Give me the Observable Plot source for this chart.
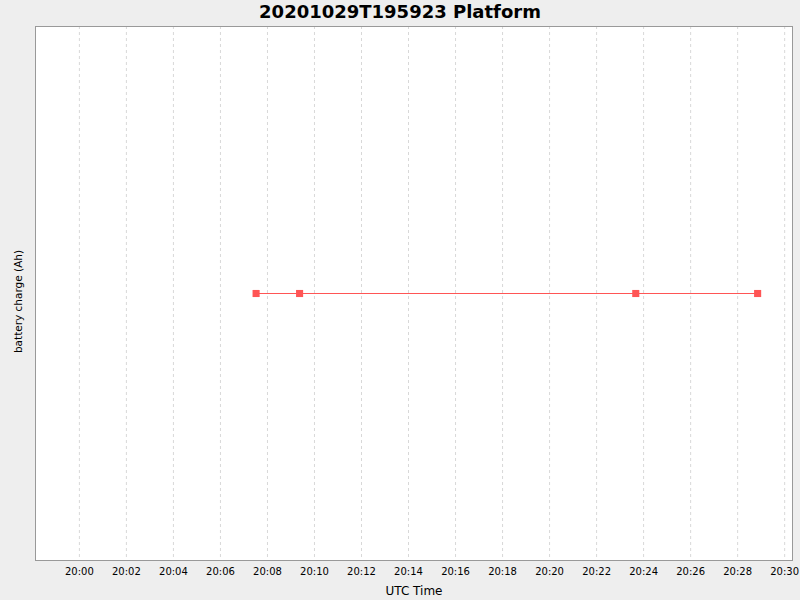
<!DOCTYPE html>
<html>
<head>
<meta charset="utf-8">
<script src="https://cdn.jsdelivr.net/npm/d3@7"></script>
<script src="https://cdn.jsdelivr.net/npm/@observablehq/plot@0.6"></script>
<style>
  html, body { margin: 0; padding: 0; background: #eeeeee; width: 800px; height: 600px; overflow: hidden; font-family: "DejaVu Sans", sans-serif; }
  #title { height: 24px; line-height: 24px; text-align: center; font-weight: bold; font-size: 18px; color: #000; }
  svg { display: block; }
</style>
</head>
<body>
<div id="title">20201029T195923 Platform</div>
<div id="chart"></div>
<script>
const times = ["2020-10-29T20:07:31Z", "2020-10-29T20:09:22Z", "2020-10-29T20:23:40Z", "2020-10-29T20:28:51Z"];
const batteryCharge = [0, 0, 0, 0];
const xDomain = ["2020-10-29T19:58:08Z", "2020-10-29T20:30:20Z"];
const yDomain = [-1, 1];

const data = times.map((t, i) => ({ time: new Date(t), value: batteryCharge[i] }));
const tickValues = d3.utcMinute.every(2).range(new Date("2020-10-29T20:00:00Z"), new Date("2020-10-29T20:30:01Z"));

const chart = Plot.plot({
  width: 800,
  height: 576,
  marginLeft: 35,
  marginRight: 8,
  marginTop: 2,
  marginBottom: 40,
  style: { background: "transparent", fontFamily: "DejaVu Sans, sans-serif", fontSize: "10px", color: "#000" },
  x: { type: "utc", domain: xDomain.map(d => new Date(d)), label: null },
  y: { domain: yDomain, label: null, axis: null },
  marks: [
    Plot.frame({ fill: "white", stroke: "none" }),
    Plot.gridX(tickValues, { stroke: "#d8d8d8", strokeOpacity: 1, strokeDasharray: "3,3" }),
    Plot.frame({ stroke: "#999999", strokeWidth: 1 }),
    Plot.axisX(tickValues, { tickSize: 0, tickPadding: 7, tickFormat: d3.utcFormat("%H:%M"), fontSize: 10, fill: "#000" }),
    Plot.text(["UTC Time"], { frameAnchor: "bottom", dy: 34, fontSize: 12, fill: "#000" }),
    Plot.text(["battery charge (Ah)"], { frameAnchor: "left", textAnchor: "middle", dx: -17, dy: 8, rotate: -90, fontSize: 10.5, fill: "#000" }),
    Plot.line(data, { x: "time", y: "value", stroke: "#ff5555", strokeWidth: 1 }),
    Plot.dot(data, { x: "time", y: "value", symbol: "square", r: 4, fill: "#ff5555", stroke: "none" })
  ]
});
document.getElementById("chart").appendChild(chart);
</script>
</body>
</html>
